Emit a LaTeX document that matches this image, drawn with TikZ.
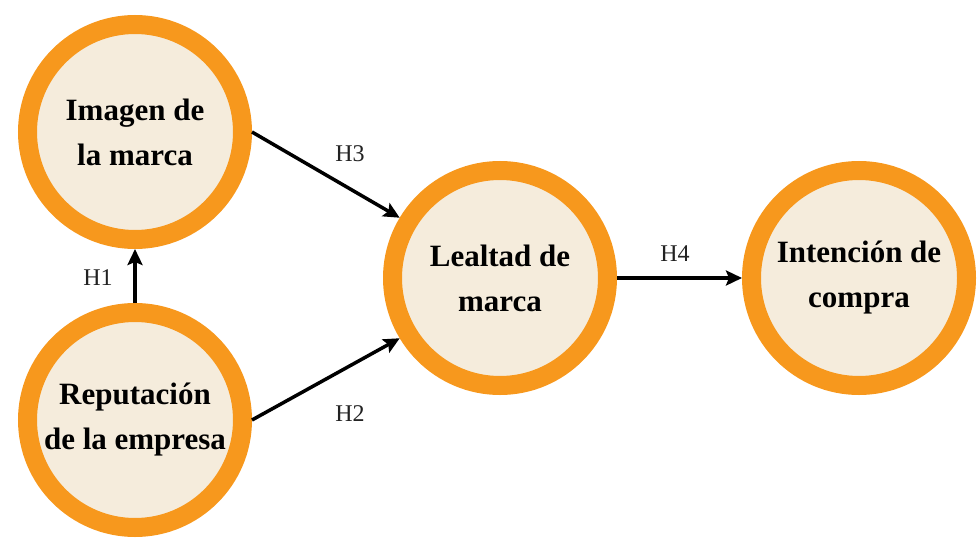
\documentclass[tikz,border=0pt]{standalone}
\usepackage{fontspec}
\setmainfont{Liberation Serif}
\usetikzlibrary{arrows.meta}
\definecolor{ringorange}{HTML}{F7981D}
\definecolor{creamfill}{HTML}{F5ECDC}
\definecolor{labelgray}{HTML}{222222}
\begin{document}
\begin{tikzpicture}[x=1pt,y=-1pt,
  construct/.style={circle, draw=ringorange, fill=creamfill, line width=19pt,
    minimum size=215pt, inner sep=0pt, outer sep=9.5pt, align=center,
    font=\fontsize{31}{45}\selectfont\bfseries},
  link/.style={line width=3.5pt, -{Stealth[length=16pt,width=15pt,inset=3pt]}},
  hlabel/.style={text=labelgray, font=\fontsize{24}{28}\selectfont}]
\useasboundingbox (0,0) rectangle (980,551);
\node[construct] (img) at (135,132) {Imagen de\\la marca};
\node[construct] (rep) at (135,420) {Reputación\\de la empresa};
\node[construct] (lea) at (500,278) {Lealtad de\\marca};
\node[construct] (int) at (859,278) {Intención de\\compra};
\draw[link] (rep.north) -- (img.south);
\draw[link] (img.east) -- (lea.149);
\draw[link] (rep.east) -- (lea.211);
\draw[link] (lea.east) -- (int.west);
\node[hlabel] (h1) at (98,278) {H1};
\node[hlabel] (h3) at (350,154) {H3};
\node[hlabel] (h2) at (350,414) {H2};
\node[hlabel] (h4) at (675,254) {H4};
\end{tikzpicture}
\end{document}
